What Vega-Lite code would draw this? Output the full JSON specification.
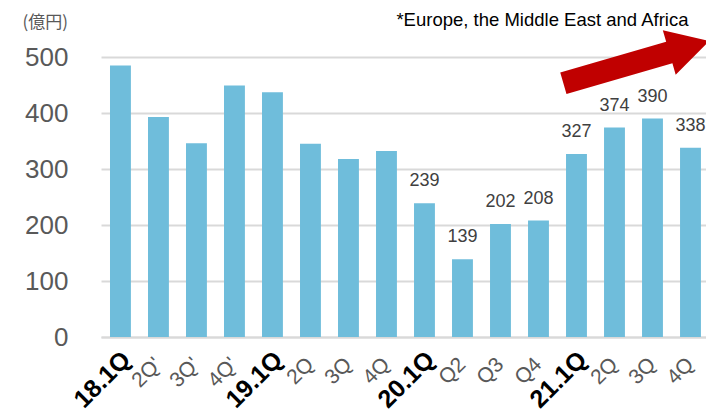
{
  "$schema": "https://vega.github.io/schema/vega-lite/v6.json",
  "width": 605,
  "height": 280,
  "autosize": "none",
  "padding": {"left": 101, "top": 57, "right": 0, "bottom": 73},
  "background": "white",
  "config": {"font": "Liberation Sans", "view": {"stroke": null}},
  "layer": [
    {"data": {"name": "sales", "values": [
      {"q": "18.1Q", "v": 485}, {"q": "18.2Q", "v": 393}, {"q": "18.3Q", "v": 346}, {"q": "18.4Q", "v": 449},
      {"q": "19.1Q", "v": 437}, {"q": "19.2Q", "v": 345}, {"q": "19.3Q", "v": 318}, {"q": "19.4Q", "v": 332},
      {"q": "20.1Q", "v": 239}, {"q": "20.2Q", "v": 139}, {"q": "20.3Q", "v": 202}, {"q": "20.4Q", "v": 208},
      {"q": "21.1Q", "v": 327}, {"q": "21.2Q", "v": 374}, {"q": "21.3Q", "v": 390}, {"q": "21.4Q", "v": 338}
    ]},
    "encoding": {
      "x": {"field": "q", "type": "nominal", "sort": null,
        "scale": {"paddingInner": 0.45, "paddingOuter": 0.185, "align": 0.64},
        "axis": {"title": null, "labelAngle": -45, "ticks": false, "domain": true, "domainColor": "#d9d9d9", "domainWidth": 2,
          "labelBaseline": "middle", "labelAlign": "right",
          "labelPadding": {"condition": {"test": "indexof(datum.value, '.1Q') >= 0", "value": 18}, "value": 24},
          "labelOffset": {"condition": {"test": "indexof(datum.value, '.1Q') >= 0", "value": 6}, "value": 0},
          "labelExpr": "slice(datum.value,3,4)=='1' ? datum.value : (slice(datum.value,0,2)=='18' ? slice(datum.value,3,4)+\"Q'\" : (slice(datum.value,0,2)=='20' ? 'Q'+slice(datum.value,3,4) : slice(datum.value,3,4)+'Q'))",
          "labelFontWeight": {"condition": {"test": "indexof(datum.value, '.1Q') >= 0", "value": "bold"}, "value": "normal"},
          "labelFontSize": {"condition": {"test": "indexof(datum.value, '.1Q') >= 0", "value": 25}, "value": 21},
          "labelColor": {"condition": {"test": "indexof(datum.value, '.1Q') >= 0", "value": "#000000"}, "value": "#595959"}
        }
      },
      "y": {"field": "v", "type": "quantitative",
        "scale": {"domain": [0, 500], "nice": false, "zero": true},
        "axis": {"values": [0, 100, 200, 300, 400, 500], "grid": true, "gridColor": "#d9d9d9", "gridWidth": 2,
          "domain": false, "ticks": false, "tickSize": 0, "labelPadding": 33, "labelFontSize": 26, "labelColor": "#595959",
          "title": "(億円)", "titleAngle": 0, "titleX": -79, "titleY": -35, "titleAlign": "left", "titleBaseline": "middle",
          "titleFontSize": 17, "titleFontWeight": "normal", "titleColor": "#595959", "titleFont": "Noto Sans CJK JP"}
      }
    },
    "layer": [
      {"mark": {"type": "bar", "color": "#6fbddb"}},
      {"transform": [{"filter": "toNumber(slice(datum.q,0,2)) >= 20"}],
       "mark": {"type": "text", "baseline": "alphabetic", "dy": -17, "fontSize": 18, "color": "#404040"},
       "encoding": {"text": {"field": "v", "type": "quantitative"}}}
    ]},
    {"data": {"values": [{"t": "*Europe, the Middle East and Africa"}]},
     "mark": {"type": "text", "align": "right", "baseline": "middle", "dx": -2, "fontSize": 18.5, "color": "#000000", "clip": false},
     "encoding": {"x": {"datum": "21.4Q"}, "y": {"datum": 566}, "text": {"field": "t", "type": "nominal"}}},
    {"data": {"values": [{"a": "arrow"}]},
     "mark": {"type": "point", "filled": true, "opacity": 1, "color": "#c00000", "strokeWidth": 0, "size": 25600, "clip": false,
       "shape": "M-1.153,0.130L0.171,-0.254L0.129,-0.398L0.710,-0.264L0.290,0.159L0.249,0.015L-1.075,0.399Z"},
     "encoding": {"x": {"datum": "21.3Q"}, "y": {"datum": 491}}}
  ]
}
